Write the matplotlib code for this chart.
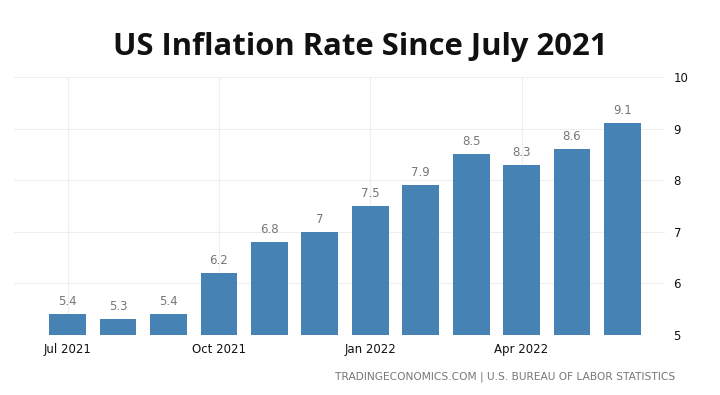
import matplotlib.pyplot as plt
import numpy as np

months = ['Jul 2021', 'Aug 2021', 'Sep 2021', 'Oct 2021', 'Nov 2021', 'Dec 2021',
          'Jan 2022', 'Feb 2022', 'Mar 2022', 'Apr 2022', 'May 2022', 'Jun 2022']
rates = [5.4, 5.3, 5.4, 6.2, 6.8, 7.0, 7.5, 7.9, 8.5, 8.3, 8.6, 9.1]
rate_labels = ['5.4', '5.3', '5.4', '6.2', '6.8', '7', '7.5', '7.9', '8.5', '8.3', '8.6', '9.1']
tick_idx = [0, 3, 6, 9]
yticks = [5, 6, 7, 8, 9, 10]

fig = plt.figure(figsize=(7.2, 3.95), dpi=100)
ax = fig.add_axes([0.019, 0.152, 0.905, 0.653])

x = np.arange(len(months))
ax.bar(x, np.array(rates) - 5, bottom=5, width=0.73, color='#4682b4', zorder=3)
for xi, r, lab in zip(x, rates, rate_labels):
    ax.text(xi, r + 0.12, lab, ha='center', va='bottom', fontsize=8.5, color='#777777')

ax.set_xlim(-1.07, 11.85)
ax.set_ylim(5, 10)
ax.set_yticks(yticks)
ax.set_xticks(tick_idx)
ax.set_xticklabels([months[i] for i in tick_idx])
ax.yaxis.tick_right()
ax.tick_params(axis='both', length=0, labelsize=8.5, colors='#111111')
ax.tick_params(axis='x', pad=6)
ax.tick_params(axis='y', pad=6)
ax.grid(True, color='#eeeeee', linewidth=0.8, zorder=0)
for s in ax.spines.values():
    s.set_visible(False)

fig.text(0.5, 0.88, 'US Inflation Rate Since July 2021', ha='center', va='center',
         fontsize=22.3, fontweight='bold', family='Open Sans', color='#111111')
fig.text(0.938, 0.045, 'TRADINGECONOMICS.COM | U.S. BUREAU OF LABOR STATISTICS',
         ha='right', va='center', fontsize=7.7, color='#777777')

fig.savefig('out.png', dpi=100)
